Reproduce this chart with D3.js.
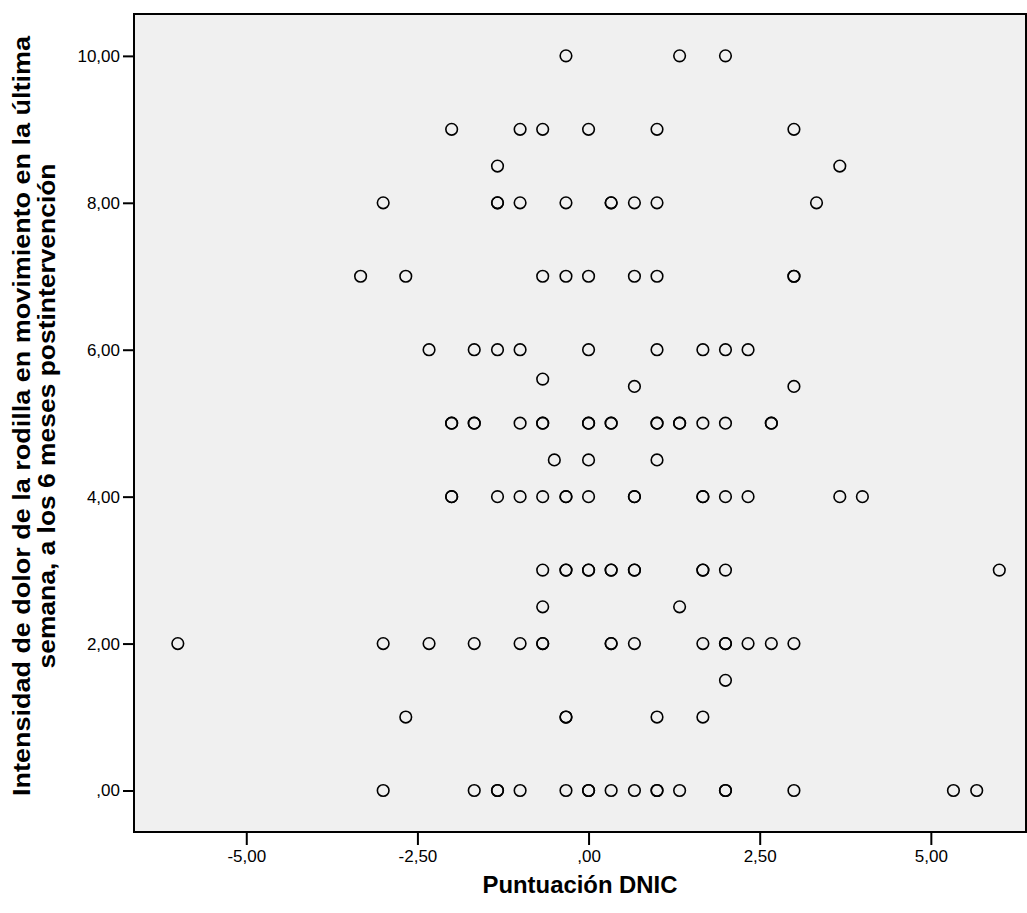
<!DOCTYPE html>
<html>
<head>
<meta charset="utf-8">
<script src="https://cdn.jsdelivr.net/npm/d3@7"></script>
<style>
  body { margin: 0; background: #fff; }
  text { font-family: "Liberation Sans", Arial, sans-serif; }
</style>
</head>
<body>
<div id="chart-area"></div>
<script>
// Puntuación DNIC (x) vs intensidad de dolor (y), one entry per case
var dnic = [
    -0.33, 1.33, 2,
    -2, -1, -0.67, 0, 1, 3,
    -1.33, 3.67,
    -3, -1.33, -1.33, -1, -0.33, 0.33, 0.33, 0.67, 1, 3.33,
    -3.33, -2.67, -0.67, -0.33, 0, 0.67, 1, 3, 3,
    -2.33, -1.67, -1.33, -1, 0, 1, 1.67, 2, 2.33,
    -0.67,
    0.67, 3,
    -2, -2, -1.67, -1.67, -1, -0.67, -0.67, 0, 0, 0.33, 0.33, 1, 1, 1.33, 1.33, 1.67, 2, 2.67, 2.67,
    -0.5, 0, 1,
    -2, -2, -1.33, -1, -0.67, -0.33, -0.33, 0, 0.67, 0.67, 1.67, 1.67, 2, 2.33, 3.67, 4,
    -0.67, -0.33, -0.33, 0, 0, 0.33, 0.33, 0.67, 0.67, 1.67, 1.67, 2, 6,
    -0.67, 1.33,
    -6, -3, -2.33, -1.67, -1, -0.67, -0.67, 0.33, 0.33, 0.67, 1.67, 2, 2, 2.33, 2.67, 3,
    2,
    -2.67, -0.33, -0.33, 1, 1.67,
    -3, -1.67, -1.33, -1.33, -1, -0.33, 0, 0, 0.33, 0.67, 1, 1, 1.33, 2, 2, 3, 5.33, 5.67
];
var dolor = [
    10, 10, 10,
    9, 9, 9, 9, 9, 9,
    8.5, 8.5,
    8, 8, 8, 8, 8, 8, 8, 8, 8, 8,
    7, 7, 7, 7, 7, 7, 7, 7, 7,
    6, 6, 6, 6, 6, 6, 6, 6, 6,
    5.6,
    5.5, 5.5,
    5, 5, 5, 5, 5, 5, 5, 5, 5, 5, 5, 5, 5, 5, 5, 5, 5, 5, 5,
    4.5, 4.5, 4.5,
    4, 4, 4, 4, 4, 4, 4, 4, 4, 4, 4, 4, 4, 4, 4, 4,
    3, 3, 3, 3, 3, 3, 3, 3, 3, 3, 3, 3, 3,
    2.5, 2.5,
    2, 2, 2, 2, 2, 2, 2, 2, 2, 2, 2, 2, 2, 2, 2, 2,
    1.5,
    1, 1, 1, 1, 1,
    0, 0, 0, 0, 0, 0, 0, 0, 0, 0, 0, 0, 0, 0, 0, 0, 0, 0
];
var xTicks = [-5, -2.5, 0, 2.5, 5];
var yTicks = [0, 2, 4, 6, 8, 10];
var xTitle = "Puntuación DNIC";
var yTitle = ["Intensidad de dolor de la rodilla en movimiento en la última",
              "semana, a los 6 meses postintervención"];

var W = 1027, H = 913;
var margin = {top: 14, right: 1, bottom: 81, left: 134},
    width = W - margin.left - margin.right,
    height = H - margin.top - margin.bottom;

// SPSS-style number format: comma decimal, plain hyphen, no leading zero
function fmt(v) {
    var s = d3.format(".2f")(v).replace("−", "-").replace(".", ",");
    return s.replace(/^(-?)0,/, "$1,");
}

var svg = d3.select("#chart-area").append("svg")
    .attr("width", W)
    .attr("height", H);
var g = svg.append("g")
    .attr("transform", "translate(" + margin.left + "," + margin.top + ")");

var xScale = d3.scaleLinear()
    .domain([-6.64, 6.39])
    .range([0, width]);
var yScale = d3.scaleLinear()
    .domain([-0.565, 10.57])
    .range([height, 0]);

g.append("rect")
    .attr("width", width)
    .attr("height", height)
    .attr("fill", "#f0f0f0");

var xAxis = g.append("g")
    .attr("transform", "translate(0," + height + ")")
    .call(d3.axisBottom(xScale).tickValues(xTicks).tickFormat(fmt).tickSize(13).tickPadding(5));
var yAxis = g.append("g")
    .call(d3.axisLeft(yScale).tickValues(yTicks).tickFormat(fmt).tickSize(11).tickPadding(3));
[xAxis, yAxis].forEach(function (ax) {
    ax.select(".domain").remove();
    ax.selectAll("line").attr("stroke", "#000").attr("stroke-width", 2);
    ax.selectAll("text")
        .attr("fill", "#000")
        .style("font-size", "17px")
        .style("font-family", "'Liberation Sans', Arial, sans-serif");
});

g.selectAll(".dot")
    .data(dnic)
    .enter()
    .append("circle")
    .attr("class", "dot")
    .attr("cx", function (d) { return xScale(d); })
    .attr("cy", function (d, i) { return yScale(dolor[i]); })
    .attr("r", 5.8)
    .attr("fill", "none")
    .attr("stroke", "#000")
    .attr("stroke-width", 1.6);

g.append("rect")
    .attr("width", width)
    .attr("height", height)
    .attr("fill", "none")
    .attr("stroke", "#000")
    .attr("stroke-width", 2);

svg.append("text")
    .attr("x", 580)
    .attr("y", 893)
    .attr("text-anchor", "middle")
    .attr("textLength", 195)
    .attr("lengthAdjust", "spacingAndGlyphs")
    .style("font-size", "23px")
    .style("font-weight", "bold")
    .text(xTitle);

var yLens = [760, 505];
svg.append("g")
    .attr("transform", "translate(0,416) rotate(-90)")
    .selectAll("text")
    .data(yTitle)
    .enter()
    .append("text")
    .attr("x", function (d, i) { return -yLens[i] / 2; })
    .attr("y", function (d, i) { return 30 + i * 25; })
    .attr("textLength", function (d, i) { return yLens[i]; })
    .attr("lengthAdjust", "spacingAndGlyphs")
    .style("font-size", "23px")
    .style("font-weight", "bold")
    .text(function (d) { return d; });
</script>
</body>
</html>
